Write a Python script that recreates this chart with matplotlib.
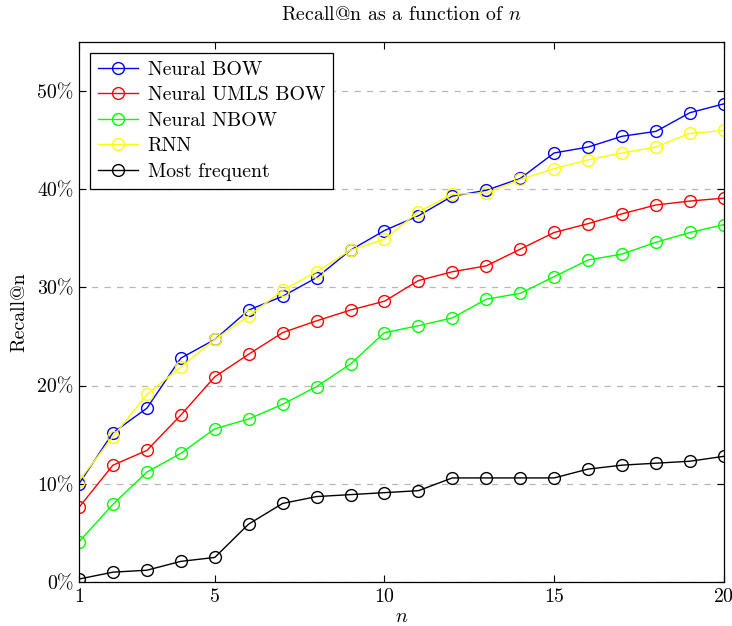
import numpy as np
import matplotlib
matplotlib.use('Agg')
import matplotlib.pyplot as plt
from matplotlib.ticker import FuncFormatter

plt.rcParams['font.family'] = ['cmr10', 'DejaVu Serif']
plt.rcParams['mathtext.fontset'] = 'cm'
plt.rcParams['axes.unicode_minus'] = False
plt.rcParams['axes.formatter.use_mathtext'] = True

n = np.arange(1, 21)

# recall values in percent
neural_bow = [10.0, 15.2, 17.7, 22.8, 24.7, 27.7, 29.1, 31.0, 33.8, 35.8,
              37.3, 39.3, 39.9, 41.1, 43.7, 44.3, 45.4, 45.9, 47.8, 48.7]
neural_umls_bow = [7.6, 11.9, 13.4, 17.0, 20.9, 23.2, 25.4, 26.6, 27.7, 28.6,
                   30.7, 31.6, 32.2, 33.9, 35.6, 36.5, 37.5, 38.4, 38.8, 39.1]
neural_nbow = [4.1, 7.9, 11.2, 13.1, 15.6, 16.6, 18.1, 19.9, 22.2, 25.4,
               26.1, 26.9, 28.8, 29.4, 31.1, 32.8, 33.4, 34.6, 35.6, 36.4]
rnn = [10.3, 14.8, 19.1, 21.9, 24.7, 27.1, 29.7, 31.6, 33.8, 34.9,
       37.7, 39.5, 39.6, 41.0, 42.1, 43.0, 43.7, 44.3, 45.7, 46.0]
most_frequent = [0.3, 1.0, 1.2, 2.1, 2.5, 5.9, 8.0, 8.7, 8.9, 9.1,
                 9.3, 10.6, 10.6, 10.6, 10.6, 11.5, 11.9, 12.1, 12.3, 12.8]

series = [
    ('Neural BOW', neural_bow, '#0000ff'),
    ('Neural UMLS BOW', neural_umls_bow, '#ff0000'),
    ('Neural NBOW', neural_nbow, '#00ff00'),
    ('RNN', rnn, '#ffff00'),
    ('Most frequent', most_frequent, '#000000'),
]

fs = 14.3

fig = plt.figure(figsize=(7.32, 6.26), dpi=100)
ax = fig.add_axes([0.1079, 0.0703, 0.881, 0.8626])

for label, vals, color in series:
    ax.plot(n, vals, color=color, lw=1.0, marker='o', markersize=8.5,
            markerfacecolor='none', markeredgecolor=color, markeredgewidth=1.0,
            label=label)

ax.set_xlim(1, 20)
ax.set_ylim(0, 55)
ax.set_xticks([1, 5, 10, 15, 20])
ax.set_yticks([0, 10, 20, 30, 40, 50])
ax.yaxis.set_major_formatter(FuncFormatter(lambda v, p: '%d%%' % v))
ax.tick_params(direction='in', length=5, width=0.8, labelsize=fs,
               top=True, right=True, pad=4)
for s in ax.spines.values():
    s.set_linewidth(0.9)

ax.yaxis.grid(True, color='#b8b8b8', linestyle=(0, (5, 5)), linewidth=0.9)
ax.set_axisbelow(True)

ax.set_title('Recall@n as a function of $n$', fontsize=fs, pad=16)
ax.set_xlabel('$n$', fontsize=fs, labelpad=2)
ax.set_ylabel('Recall@n', fontsize=fs, labelpad=6)

leg = ax.legend(loc='upper left', fontsize=fs, fancybox=False, framealpha=1,
                edgecolor='black', borderaxespad=0.55, handlelength=2.0,
                handletextpad=0.5, labelspacing=0.38, borderpad=0.4)
leg.get_frame().set_linewidth(0.9)

fig.savefig('out.png', dpi=100)
